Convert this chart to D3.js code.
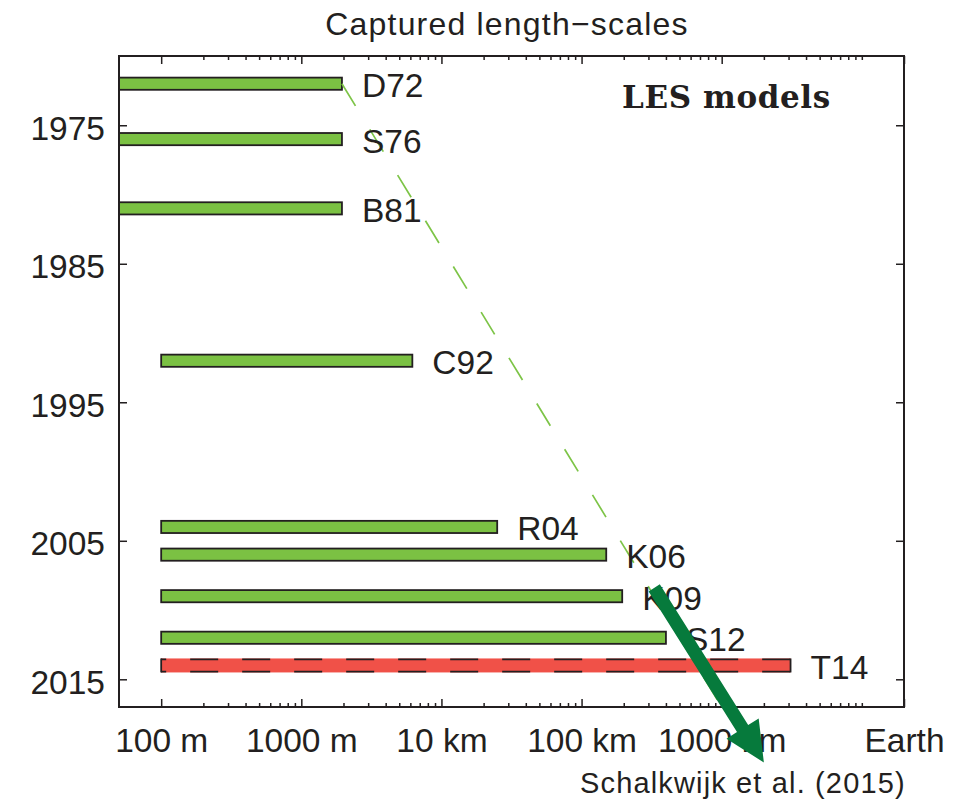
<!DOCTYPE html>
<html>
<head>
<meta charset="utf-8">
<script src="https://cdn.jsdelivr.net/npm/d3@7"></script>
<style>
  html, body { margin: 0; padding: 0; background: #fff; }
  svg { display: block; }
  text { font-family: "Liberation Sans", Arial, Helvetica, sans-serif; fill: #231f20; }
</style>
</head>
<body>
<svg id="chart" width="966" height="805"></svg>
<script>
// LES studies and the range of length-scales each one resolved (metres)
const models   = ["D72", "S76", "B81", "C92", "R04", "K06", "K09", "S12", "T14"];
const years    = [1972, 1976, 1981, 1992, 2004, 2006, 2009, 2012, 2014];
const minScale = [20, 20, 20, 100, 100, 100, 100, 100, 100];
const maxScale = [1950, 1950, 1950, 6200, 25000, 150000, 195000, 400000, 3.1e6];
const highlighted = ["T14"];

// Trend of the largest captured scale through time
const trendScale = [1950, 1e6];
const trendYear  = [1972, 2017];

// Extrapolation arrow towards the global scale
const arrowScale = [3.3e5, 2.0e6];
const arrowYear  = [2008.4, 2021.0];

// Axis ticks
const xMajor  = [1e2, 1e3, 1e4, 1e5, 1e6, 2e7];
const xLabels = ["100 m", "1000 m", "10 km", "100 km", "1000 km", "Earth"];
const yMajor  = [1975, 1985, 1995, 2005, 2015];

const ink = "#231f20";
const green = "#7bc143";
const red = "#f05148";
const arrowGreen = "#067a3c";
const fs = 33.5;

const plot = { left: 119, right: 904, top: 56, bottom: 707 };
const x = d3.scaleLog().domain([50, 2e7]).range([plot.left, plot.right]);
const y = d3.scaleLinear().domain([1970, 2017]).range([plot.top, plot.bottom]);

// minor ticks: 2..9 x 10^k inside the domain, plus 10^7
const xMinor = [];
for (let k = 2; k <= 6; k++) for (let m = 2; m <= 9; m++) xMinor.push(m * Math.pow(10, k));
xMinor.push(1e7);

const svg = d3.select("#chart");
svg.append("defs").append("clipPath").attr("id", "plot-clip")
  .append("rect")
  .attr("x", plot.left).attr("y", plot.top)
  .attr("width", plot.right - plot.left).attr("height", plot.bottom - plot.top);

const rows = models.map((m, i) => ({
  name: m, year: years[i], lo: minScale[i], hi: maxScale[i],
  hl: highlighted.includes(m)
}));
const half = 0.44;

// bars
const gBars = svg.append("g").attr("clip-path", "url(#plot-clip)");
gBars.selectAll("rect.bar").data(rows.filter(d => !d.hl)).join("rect")
  .attr("class", "bar")
  .attr("x", d => x(d.lo))
  .attr("y", d => y(d.year - half))
  .attr("width", d => x(d.hi) - x(d.lo))
  .attr("height", d => y(d.year + half) - y(d.year - half))
  .attr("fill", green)
  .attr("stroke", ink)
  .attr("stroke-width", 1.8);

// highlighted bar: red fill with a dashed outline
rows.filter(d => d.hl).forEach(d => {
  const x0 = x(d.lo), x1 = x(d.hi), y0 = y(d.year - half), y1 = y(d.year + half);
  gBars.append("rect")
    .attr("x", x0).attr("y", y0 - 0.9)
    .attr("width", x1 - x0).attr("height", y1 - y0 + 1.8)
    .attr("fill", red);
  [y0, y1].forEach(yy => {
    gBars.append("line")
      .attr("x1", x0).attr("x2", x1).attr("y1", yy).attr("y2", yy)
      .attr("stroke", ink).attr("stroke-width", 1.8)
      .attr("stroke-dasharray", "28,24").attr("stroke-dashoffset", 23);
  });
  [x0, x1].forEach(xx => {
    gBars.append("line")
      .attr("x1", xx).attr("x2", xx).attr("y1", y0 - 0.9).attr("y2", y1 + 0.9)
      .attr("stroke", ink).attr("stroke-width", 1.8);
  });
});

// dashed trend line
svg.append("g").attr("clip-path", "url(#plot-clip)")
  .append("line")
  .attr("x1", x(trendScale[0])).attr("y1", y(trendYear[0]))
  .attr("x2", x(trendScale[1])).attr("y2", y(trendYear[1]))
  .attr("stroke", "#7dc447").attr("stroke-width", 1.7)
  .attr("stroke-dasharray", "26,27.5");

// bar labels
svg.append("g").selectAll("text").data(rows).join("text")
  .attr("x", d => x(d.hi) + 20)
  .attr("y", d => y(d.year))
  .attr("dy", "0.40em")
  .attr("font-size", fs)
  .text(d => d.name);

// axes (ticks point inwards)
function styleAxis(g) {
  g.select(".domain").remove();
  g.selectAll(".tick line").attr("stroke", ink).attr("stroke-width", 1.5);
  g.selectAll(".tick text").attr("fill", ink).attr("font-size", fs)
    .attr("font-family", "\"Liberation Sans\", Arial, Helvetica, sans-serif");
  g.attr("font-size", null).attr("font-family", null);
}
const gx = svg.append("g").attr("transform", `translate(0,${plot.bottom})`)
  .call(d3.axisBottom(x).tickValues(xMajor).tickFormat((d, i) => xLabels[i])
    .tickSizeInner(-8).tickSizeOuter(0).tickPadding(21));
styleAxis(gx);
const gxm = svg.append("g").attr("transform", `translate(0,${plot.bottom})`)
  .call(d3.axisBottom(x).tickValues(xMinor).tickFormat("").tickSizeInner(-4).tickSizeOuter(0));
styleAxis(gxm);
const gxt = svg.append("g").attr("transform", `translate(0,${plot.top})`)
  .call(d3.axisTop(x).tickValues(xMajor).tickFormat("").tickSizeInner(-8).tickSizeOuter(0));
styleAxis(gxt);
const gxtm = svg.append("g").attr("transform", `translate(0,${plot.top})`)
  .call(d3.axisTop(x).tickValues(xMinor).tickFormat("").tickSizeInner(-4).tickSizeOuter(0));
styleAxis(gxtm);
const gy = svg.append("g").attr("transform", `translate(${plot.left},0)`)
  .call(d3.axisLeft(y).tickValues(yMajor).tickFormat(d3.format("d"))
    .tickSizeInner(-8).tickSizeOuter(0).tickPadding(14));
styleAxis(gy);
gy.selectAll(".tick text").attr("dy", "0.42em");
const gyr = svg.append("g").attr("transform", `translate(${plot.right},0)`)
  .call(d3.axisRight(y).tickValues(yMajor).tickFormat("").tickSizeInner(-8).tickSizeOuter(0));
styleAxis(gyr);

// frame
svg.append("rect")
  .attr("x", plot.left).attr("y", plot.top)
  .attr("width", plot.right - plot.left).attr("height", plot.bottom - plot.top)
  .attr("fill", "none").attr("stroke", ink).attr("stroke-width", 2);

// title and legend text
svg.append("text")
  .attr("x", 507).attr("y", 35)
  .attr("text-anchor", "middle")
  .attr("font-size", 32)
  .attr("letter-spacing", 1.2)
  .text("Captured length\u2212scales");

svg.append("text")
  .attr("x", 622).attr("y", 108)
  .style("font-family", "\"DejaVu Serif\", \"Liberation Serif\", serif")
  .attr("font-weight", "bold")
  .attr("font-size", 31)
  .attr("letter-spacing", 0.6)
  .text("LES models");

// extrapolation arrow
(function () {
  const p0 = [x(arrowScale[0]), y(arrowYear[0])];
  const p1 = [x(arrowScale[1]), y(arrowYear[1])];
  const dx = p1[0] - p0[0], dy = p1[1] - p0[1];
  const len = Math.hypot(dx, dy);
  const u = [dx / len, dy / len], n = [-u[1], u[0]];
  const shaft = 6.6, head = 19, headLen = 40;
  const b = [p1[0] - u[0] * headLen, p1[1] - u[1] * headLen];
  const pt = (p, s) => [p[0] + n[0] * s, p[1] + n[1] * s];
  const pts = [pt(p0, shaft), pt(b, shaft), pt(b, head), p1, pt(b, -head), pt(b, -shaft), pt(p0, -shaft)];
  svg.append("polygon")
    .attr("points", pts.map(p => p.join(",")).join(" "))
    .attr("fill", arrowGreen);
})();

svg.append("text")
  .attr("x", 580).attr("y", 793)
  .attr("font-size", 29)
  .attr("letter-spacing", 1.15)
  .text("Schalkwijk et al. (2015)");
</script>
</body>
</html>
